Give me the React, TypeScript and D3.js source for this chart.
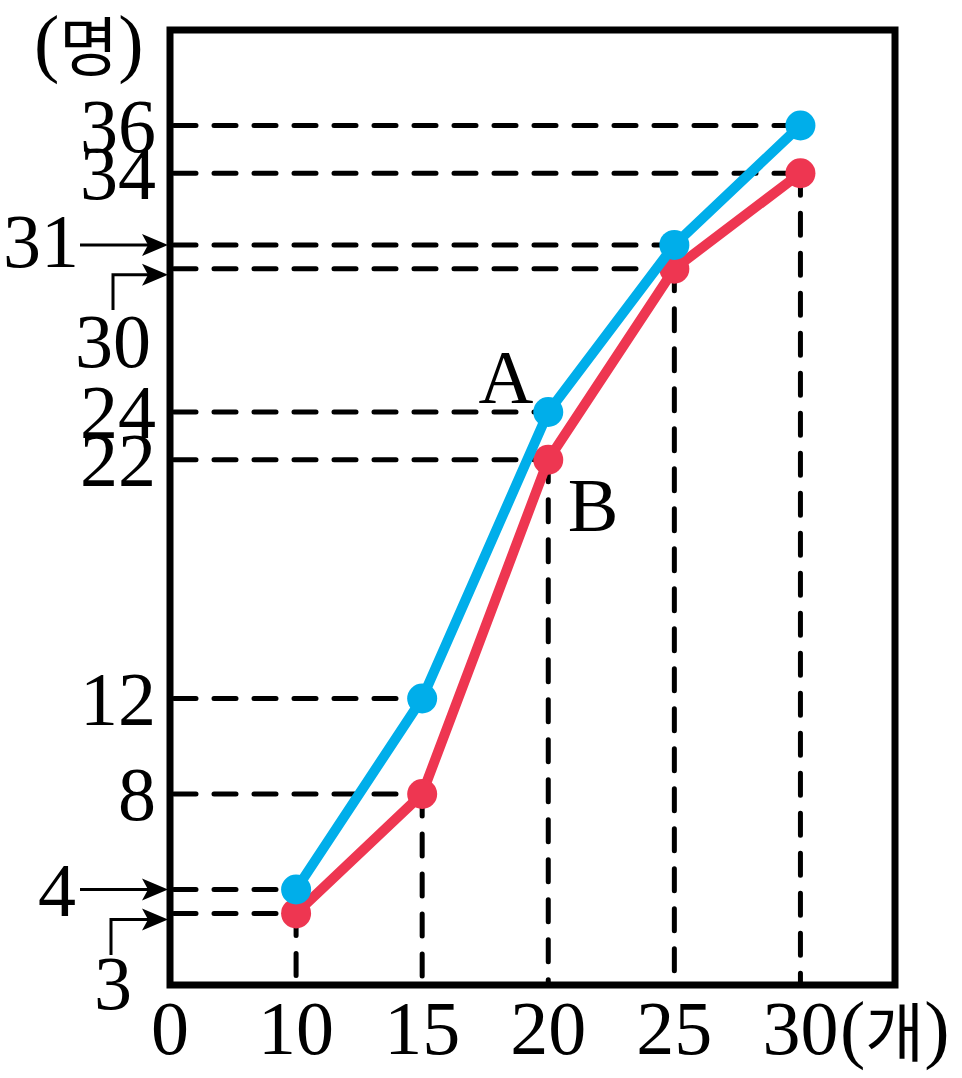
import React from "react";
import * as d3 from "d3";

const xCats = [10, 15, 20, 25, 30];
const seriesA = [4, 12, 24, 31, 36];
const seriesB = [3, 8, 22, 30, 34];
const plainTicks = [36, 34, 24, 22, 12, 8];

const W = 962;
const H = 1078;
const L = 170, R = 895, T = 30, B = 985;
const blue = "#00AEEA";
const red = "#EE3651";
const serif = "'Liberation Serif', 'DejaVu Serif', serif";
const FS = 76;

export default function App() {
  const x = d3.scaleLinear().domain([0, 5.75]).range([L, R]);
  const y = d3.scaleLinear().domain([0, 40]).range([B, T]);
  const xi = (i: number) => x(i + 1);
  const line = d3.line<number>().x((_, i) => xi(i)).y((d) => y(d));

  const dash = { stroke: "#000", strokeWidth: 5, strokeDasharray: "22 18", strokeLinecap: "round" as const };

  const arrowH = (x0: number, yy: number) => {
    const tip = L - 2;
    return (
      <g>
        <line x1={x0} y1={yy} x2={tip - 18} y2={yy} stroke="#000" strokeWidth={3} />
        <path d={`M${tip},${yy} L${tip - 26},${yy - 11} L${tip - 20},${yy} L${tip - 26},${yy + 11} Z`} fill="#000" />
      </g>
    );
  };
  const arrowBent = (xv: number, yTop: number, yy: number) => {
    const tip = L - 2;
    return (
      <g>
        <path d={`M${xv},${yTop} L${xv},${yy} L${tip - 18},${yy}`} fill="none" stroke="#000" strokeWidth={3} />
        <path d={`M${tip},${yy} L${tip - 26},${yy - 11} L${tip - 20},${yy} L${tip - 26},${yy + 11} Z`} fill="#000" />
      </g>
    );
  };

  return (
    <svg width={W} height={H} style={{ position: "absolute", left: 0, top: 0 }}>
      <rect width={W} height={H} fill="#fff" />
      {xCats.map((_, i) => (
        <g key={"h" + i}>
          <line x1={L + 4} x2={xi(i)} y1={y(seriesA[i])} y2={y(seriesA[i])} {...dash} />
          <line x1={L + 4} x2={xi(i)} y1={y(seriesB[i])} y2={y(seriesB[i])} {...dash} />
          <line x1={xi(i)} x2={xi(i)} y1={y(Math.min(seriesA[i], seriesB[i]))} y2={B} {...dash} />
        </g>
      ))}
      <rect x={L} y={T} width={R - L} height={B - T} fill="none" stroke="#000" strokeWidth={7} />
      <path d={line(seriesB) || ""} fill="none" stroke={red} strokeWidth={10} strokeLinejoin="round" />
      {seriesB.map((v, i) => (
        <circle key={"b" + i} cx={xi(i)} cy={y(v)} r={15} fill={red} />
      ))}
      <path d={line(seriesA) || ""} fill="none" stroke={blue} strokeWidth={10} strokeLinejoin="round" />
      {seriesA.map((v, i) => (
        <circle key={"a" + i} cx={xi(i)} cy={y(v)} r={15} fill={blue} />
      ))}
      <g fontFamily={serif} fontSize={FS} fill="#000">
        {plainTicks.map((v) => (
          <text key={"t" + v} x={156} y={y(v)} textAnchor="end" dominantBaseline="central">
            {v}
          </text>
        ))}
        <text x={79} y={y(31) - 4} textAnchor="end" dominantBaseline="central">31</text>
        <text x={151} y={y(30) + 72} textAnchor="end" dominantBaseline="central">30</text>
        <text x={76} y={y(4)} textAnchor="end" dominantBaseline="central">4</text>
        <text x={132} y={y(3) + 70} textAnchor="end" dominantBaseline="central">3</text>
        <text x={x(0)} y={1028} textAnchor="middle" dominantBaseline="central">0</text>
        {xCats.map((c, i) => (
          <text key={"x" + c} x={xi(i)} y={1028} textAnchor="middle" dominantBaseline="central">
            {c}
          </text>
        ))}
        <text x={840} y={1028} dominantBaseline="central">
          (<tspan fontFamily="'Noto Sans CJK KR'" fontSize={64}>개</tspan>)
        </text>
        <text x={34} y={42} dominantBaseline="central">
          (<tspan fontFamily="'Noto Sans CJK KR'" fontSize={64}>명</tspan>)
        </text>
        <text x={506} y={377} textAnchor="middle" dominantBaseline="central">A</text>
        <text x={593} y={505} textAnchor="middle" dominantBaseline="central">B</text>
      </g>
      {arrowH(80, y(31))}
      {arrowBent(113, 310, y(30) + 6)}
      {arrowH(80, y(4))}
      {arrowBent(111, 955, y(3) + 6)}
    </svg>
  );
}
